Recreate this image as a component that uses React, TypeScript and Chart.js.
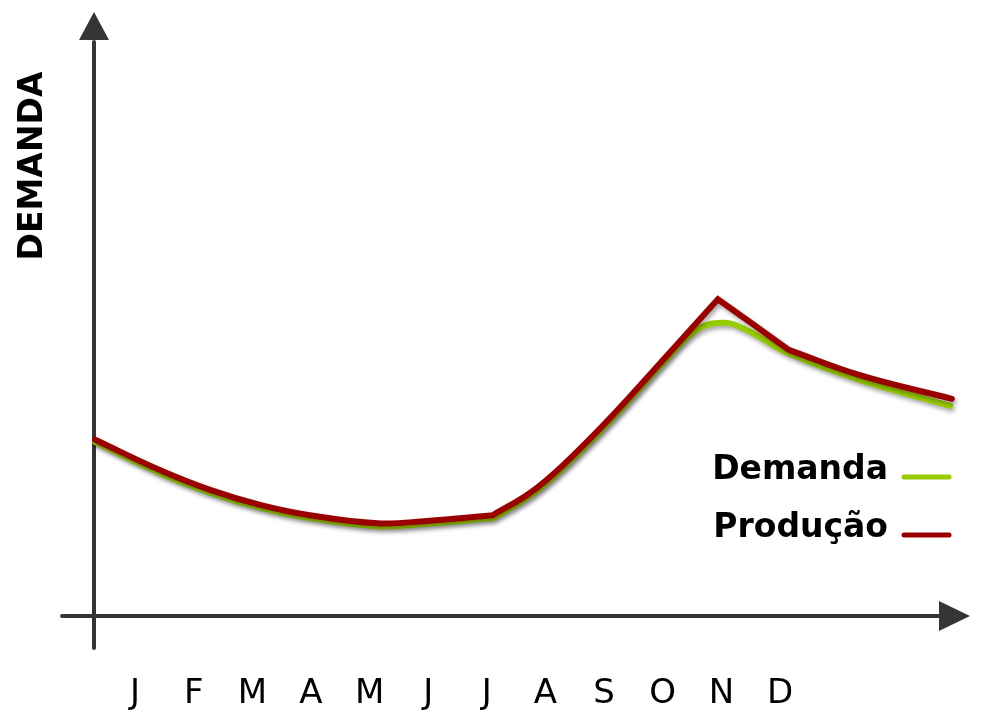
import React, { useEffect, useRef } from 'react';
import { Chart, registerables } from 'chart.js';

Chart.register(...registerables);

// ---- Data (x in month units: J = 1 ... D = 12) ----
const monthLabels = ['J', 'F', 'M', 'A', 'M', 'J', 'J', 'A', 'S', 'O', 'N', 'D'];
const monthValues = [1, 2, 3, 4, 5, 6, 7, 8, 9, 10, 11, 12];

const seriesNames = ['Demanda', 'Produção'];
const axisTitle = 'DEMANDA';

const demandaX = [0.32, 1.43, 2.28, 3.13, 3.98, 5.13, 5.98, 7.1, 7.1, 7.74, 8.3, 9.15, 10.0, 10.58, 11.03, 11.4, 12.15, 13.36, 14.9];
const demandaY = [30.2, 24.8, 21.4, 18.8, 17.0, 15.6, 16.0, 17.0, 17.0, 20.9, 25.7, 34.4, 43.9, 49.7, 50.9, 49.8, 45.6, 41.0, 36.5];

const producaoX = [0.32, 1.43, 2.28, 3.13, 3.98, 5.13, 5.98, 7.1, 7.1, 7.74, 8.3, 9.15, 10.0, 10.94, 10.94, 12.15, 12.15, 13.36, 14.93];
const producaoY = [30.6, 25.3, 21.9, 19.3, 17.5, 16.1, 16.5, 17.5, 17.5, 21.4, 26.2, 34.9, 44.4, 55.0, 55.0, 46.2, 46.2, 41.8, 37.7];

const GREEN = '#99cc00';
const RED = '#990000';
const AXIS = '#353535';
const FONT = '"DejaVu Sans", Verdana, sans-serif';

const decorPlugin = {
  id: 'decor',
  beforeDatasetsDraw(chart: any) {
    const { ctx, chartArea } = chart;
    const x0 = chartArea.left;
    const y0 = chartArea.bottom;
    ctx.save();
    ctx.strokeStyle = AXIS;
    ctx.fillStyle = AXIS;
    ctx.lineWidth = 4;
    ctx.lineCap = 'round';
    ctx.beginPath();
    ctx.moveTo(x0, y0 + 32);
    ctx.lineTo(x0, chartArea.top + 2);
    ctx.moveTo(x0 - 32, y0);
    ctx.lineTo(chartArea.right - 29, y0);
    ctx.stroke();
    // arrow heads
    ctx.beginPath();
    ctx.moveTo(x0, chartArea.top - 28);
    ctx.lineTo(x0 - 15, chartArea.top);
    ctx.lineTo(x0 + 15, chartArea.top);
    ctx.closePath();
    ctx.fill();
    ctx.beginPath();
    ctx.moveTo(chartArea.right, y0);
    ctx.lineTo(chartArea.right - 31, y0 - 15);
    ctx.lineTo(chartArea.right - 31, y0 + 15);
    ctx.closePath();
    ctx.fill();
    ctx.restore();

    ctx.save();
    ctx.shadowColor = 'rgba(0,0,0,0.35)';
    ctx.shadowBlur = 4;
    ctx.shadowOffsetX = 2;
    ctx.shadowOffsetY = 3;
  },
  afterDatasetsDraw(chart: any) {
    const { ctx, chartArea } = chart;
    ctx.restore();
    const xs = chart.scales.x;

    ctx.save();
    // month tick labels
    ctx.fillStyle = '#000';
    ctx.font = `34px ${FONT}`;
    ctx.textAlign = 'center';
    ctx.textBaseline = 'alphabetic';
    monthValues.forEach((v, i) => {
      ctx.fillText(monthLabels[i], xs.getPixelForValue(v), chartArea.bottom + 87);
    });

    // y axis title
    ctx.save();
    ctx.font = `bold 33px ${FONT}`;
    ctx.translate(42, 166);
    ctx.rotate(-Math.PI / 2);
    ctx.textAlign = 'center';
    ctx.fillText(axisTitle, 0, 0);
    ctx.restore();

    // legend
    const colors = [GREEN, RED];
    const baselines = [479, 537];
    ctx.font = `bold 33px ${FONT}`;
    ctx.textAlign = 'right';
    ctx.lineCap = 'round';
    ctx.lineWidth = 5;
    seriesNames.forEach((name, i) => {
      ctx.fillStyle = '#000';
      ctx.fillText(name, 888, baselines[i]);
      ctx.strokeStyle = colors[i];
      ctx.beginPath();
      ctx.moveTo(904, baselines[i] - 2);
      ctx.lineTo(949, baselines[i] - 2);
      ctx.stroke();
    });
    ctx.restore();
  },
};

export default function App() {
  const ref = useRef<HTMLCanvasElement>(null);

  useEffect(() => {
    if (!ref.current) return;
    const chart = new Chart(ref.current, {
      type: 'line',
      data: {
        datasets: [
          {
            label: seriesNames[0],
            data: demandaX.map((x, i) => ({ x, y: demandaY[i] })),
            borderColor: GREEN,
            borderWidth: 6,
            tension: 0.4,
            pointRadius: 0,
            fill: false,
            borderCapStyle: 'round',
            borderJoinStyle: 'round',
            order: 1,
            clip: false,
          },
          {
            label: seriesNames[1],
            data: producaoX.map((x, i) => ({ x, y: producaoY[i] })),
            borderColor: RED,
            borderWidth: 6,
            tension: 0.4,
            pointRadius: 0,
            fill: false,
            borderCapStyle: 'round',
            borderJoinStyle: 'miter',
            order: 0,
            clip: false,
          },
        ],
      },
      options: {
        animation: false,
        responsive: false,
        devicePixelRatio: 1,
        layout: { padding: { left: 94, right: 14, top: 40, bottom: 103 } },
        scales: {
          x: { type: 'linear', display: false, min: 0.3, max: 15.24 },
          y: { type: 'linear', display: false, min: 0, max: 100 },
        },
        plugins: {
          legend: { display: false },
          tooltip: { enabled: false },
        },
      },
      plugins: [decorPlugin],
    } as any);
    return () => chart.destroy();
  }, []);

  return (
    <div style={{ position: 'fixed', left: 0, top: 0, width: 984, height: 719, background: '#fff' }}>
      <canvas ref={ref} width={984} height={719} style={{ display: 'block' }} />
    </div>
  );
}
